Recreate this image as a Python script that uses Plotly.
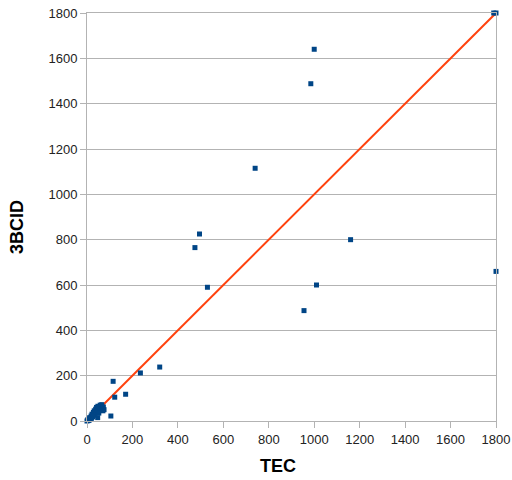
import plotly.graph_objects as go

# Data
tec = [1790, 1800, 1000, 985, 740, 495, 475, 530, 1010, 1160, 955, 1800,
       320, 235, 115, 170, 122, 105,
       0, 3, 6, 8, 10, 12, 15, 18, 20, 22, 25, 28, 30, 32, 35, 38, 40, 42,
       45, 48, 50, 55, 58, 62, 65, 68, 72, 75, 70, 52, 47]
bcid = [1800, 1800, 1640, 1488, 1115, 825, 765, 590, 600, 800, 487, 660,
        238, 212, 175, 118, 105, 22,
        0, 5, 2, 10, 4, 15, 8, 22, 12, 30, 18, 38, 25, 45, 30, 52, 40, 60,
        48, 65, 55, 62, 70, 60, 72, 55, 62, 50, 45, 35, 15]
fit_x = [0, 1800]
fit_y = [0, 1800]

x_ticks = [0, 200, 400, 600, 800, 1000, 1200, 1400, 1600, 1800]
y_ticks = [0, 200, 400, 600, 800, 1000, 1200, 1400, 1600, 1800]

fig = go.Figure()
fig.add_trace(go.Scatter(x=fit_x, y=fit_y, mode="lines",
                         line=dict(color="#ff420e", width=2),
                         hoverinfo="skip", showlegend=False))
fig.add_trace(go.Scatter(x=tec, y=bcid, mode="markers", cliponaxis=False,
                         marker=dict(symbol="square", size=5, color="#004586",
                                     line=dict(width=0)),
                         showlegend=False))

axis_common = dict(
    showline=True, linecolor="#b3b3b3", linewidth=1, mirror=True,
    ticks="outside", ticklen=6, tickcolor="#b3b3b3",
    tickfont=dict(family="Liberation Sans", size=13, color="#222222"),
    zeroline=False, automargin=False,
)
fig.update_xaxes(range=[0, 1800], tickvals=x_ticks, showgrid=False, **axis_common)
fig.update_yaxes(range=[0, 1800], tickvals=y_ticks, showgrid=True,
                 gridcolor="#b3b3b3", gridwidth=1, **axis_common)

L, R, T, B = 87, 496, 13, 421
W, H = R - L, B - T
fig.update_layout(
    width=512, height=480,
    margin=dict(l=L, r=512 - R, t=T, b=480 - B, autoexpand=False),
    plot_bgcolor="white", paper_bgcolor="white",
    annotations=[
        dict(text="<b>TEC</b>", x=(278 - L) / W, y=(B - 466) / H,
             xref="paper", yref="paper",
             showarrow=False, xanchor="center", yanchor="middle",
             font=dict(family="Liberation Sans", size=18, color="#000000")),
        dict(text="<b>3BCID</b>", x=(17 - L) / W, y=(B - 227) / H,
             xref="paper", yref="paper", textangle=-90,
             showarrow=False, xanchor="center", yanchor="middle",
             font=dict(family="Liberation Sans", size=18, color="#000000")),
    ],
)
fig.write_html("out.html", config={"displayModeBar": False},
               post_script="document.body.style.margin='0';document.body.style.overflow='hidden';")
